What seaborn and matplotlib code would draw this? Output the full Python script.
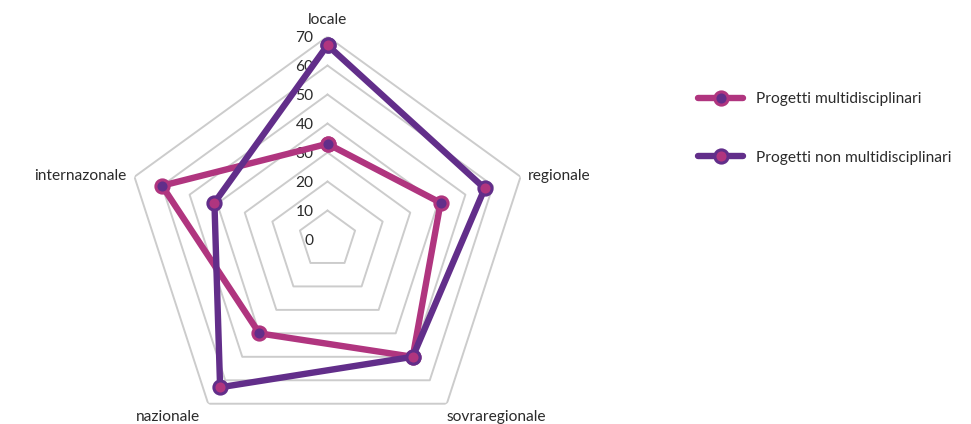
import numpy as np
import matplotlib
matplotlib.use("Agg")
import matplotlib.pyplot as plt
import seaborn as sns

# Data
categories = ["locale", "regionale", "sovraregionale", "nazionale", "internazonale"]
multi = [33, 41, 50, 40, 60]
non_multi = [67, 57, 50, 63, 41]
series_names = ["Progetti multidisciplinari", "Progetti non multidisciplinari"]
tick_values = [0, 10, 20, 30, 40, 50, 60, 70]

PINK = "#B0357F"
PURPLE = "#622E8A"
GRID = "#cccccc"
TEXT = "#2b2b2b"
FS = 11.2

sns.set_theme(style="white")
plt.rcParams["font.family"] = ["Lato", "DejaVu Sans"]

W, H = 971, 424
fig = plt.figure(figsize=(W / 100, H / 100), dpi=100)

cx, cy, R = 327.5, 239.5, 203.0
ax = fig.add_axes([(cx - R) / W, (H - cy - R) / H, 2 * R / W, 2 * R / H],
                  projection="polar")
ax.set_theta_offset(np.pi / 2)
ax.set_theta_direction(-1)

n = len(categories)
angles = np.linspace(0, 2 * np.pi, n, endpoint=False)
closed = np.append(angles, angles[0])

# Pentagon rings
for r in tick_values[1:]:
    ax.plot(closed, [r] * (n + 1), color=GRID, lw=1.4, zorder=1)

# Series
specs = [
    (multi, series_names[0], PINK, PURPLE),
    (non_multi, series_names[1], PURPLE, PINK),
]
for vals, name, line_c, face_c in specs:
    sns.lineplot(x=closed, y=np.append(vals, vals[0]), ax=ax, sort=False,
                 estimator=None, color=line_c, lw=4.6, marker="o",
                 markersize=9.5, markerfacecolor=face_c, markeredgecolor=line_c,
                 markeredgewidth=2.2, label=name, zorder=3)

ax.set_ylim(0, 70)
ax.set_xticks([])
ax.set_yticks([])
ax.grid(False)
ax.spines["polar"].set_visible(False)
ax.set_xlabel("")
ax.set_ylabel("")
ax.patch.set_alpha(0)

# Radial value labels along the top axis
for t in tick_values:
    ax.annotate(str(t), xy=(0, t), xytext=(-14, -1.5), textcoords="offset pixels",
                ha="right", va="center", fontsize=FS, color=TEXT, zorder=2)

# Category labels
label_pos = [
    ((0, 17), "center"),
    ((7, 1), "left"),
    ((0, -13), "left"),
    ((-8, -13), "right"),
    ((-8, 1), "right"),
]
for ang, cat, (off, ha) in zip(angles, categories, label_pos):
    ax.annotate(cat, xy=(ang, 70), xytext=off, textcoords="offset pixels",
                ha=ha, va="center", fontsize=FS, color=TEXT,
                annotation_clip=False)

ax.legend(loc="center left", bbox_to_anchor=(698 / W, (H - 128.5) / H),
          bbox_transform=fig.transFigure, frameon=False, handlelength=2.9,
          handletextpad=0.8, labelspacing=2.85, borderpad=0, borderaxespad=0,
          fontsize=FS, labelcolor=TEXT)

fig.savefig("out.png", dpi=100)
